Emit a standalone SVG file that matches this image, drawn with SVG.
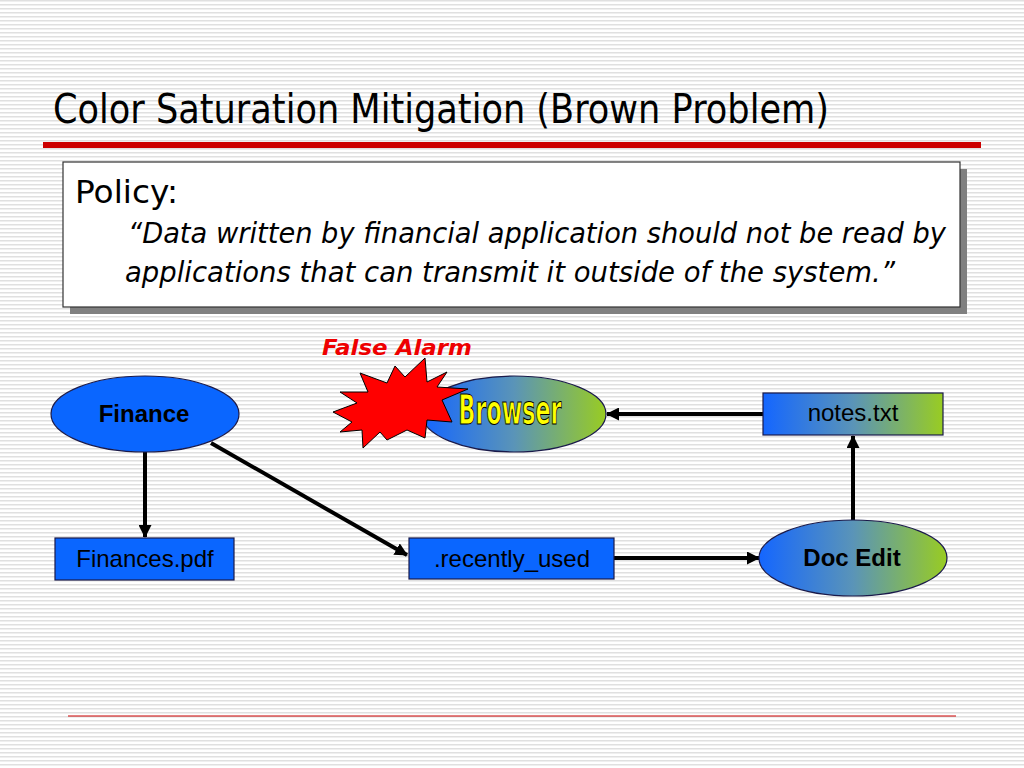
<svg xmlns="http://www.w3.org/2000/svg" width="1024" height="768" viewBox="0 0 1024 768">
<defs>
<pattern id="stripes" width="8" height="4" patternUnits="userSpaceOnUse">
<rect width="8" height="4" fill="#ffffff"/>
<rect y="0" width="8" height="1.5" fill="#e0e0e0"/>
</pattern>
<linearGradient id="bg" x1="0" y1="0" x2="1" y2="0">
<stop offset="0" stop-color="#1466ff"/>
<stop offset="0.5" stop-color="#5a94b8"/>
<stop offset="1" stop-color="#99cc22"/>
</linearGradient>
<marker id="arr" markerWidth="13" markerHeight="13" refX="12" refY="6.5" orient="auto" markerUnits="userSpaceOnUse" viewBox="0 0 13 13">
<path d="M0,0 L13,6.5 L0,13 z" fill="#000"/>
</marker>
<style>
.sans{font-family:"Liberation Sans",Arial,sans-serif;}
.tah{font-family:"DejaVu Sans",Verdana,sans-serif;}
.node{stroke:#1a1a4a;stroke-width:1.2;}
.blue{fill:#0a66ff;}
.grad{fill:url(#bg);}
.conn{stroke:#000;stroke-width:4;fill:none;}
.lbl{font-size:24px;fill:#000;text-anchor:middle;}
.bold{font-weight:bold;}
</style>
</defs>
<rect width="1024" height="768" fill="url(#stripes)"/>
<text class="tah" x="53" y="123" font-size="40" textLength="776" lengthAdjust="spacingAndGlyphs" fill="#000">Color Saturation Mitigation (Brown Problem)</text>
<rect x="43" y="142" width="938" height="6" fill="#cc0000"/>
<g id="policy">
<rect x="70" y="169" width="897" height="145" fill="#808080"/>
<rect x="63" y="162" width="897" height="145" fill="#ffffff" stroke="#333" stroke-width="1.2"/>
<text class="tah" x="75" y="203" font-size="32" textLength="103" lengthAdjust="spacingAndGlyphs" fill="#000">Policy:</text>
<text class="tah" x="128" y="243" font-size="29" font-style="italic" textLength="818" lengthAdjust="spacingAndGlyphs" fill="#000">“Data written by financial application should not be read by</text>
<text class="tah" x="125" y="282" font-size="29" font-style="italic" textLength="770" lengthAdjust="spacingAndGlyphs" fill="#000">applications that can transmit it outside of the system.”</text>
</g>
<g id="connectors">
<line class="conn" x1="145" y1="452" x2="145" y2="537" marker-end="url(#arr)"/>
<line class="conn" x1="211" y1="443" x2="407" y2="555" marker-end="url(#arr)"/>
<line class="conn" x1="614" y1="558" x2="759" y2="558" marker-end="url(#arr)"/>
<line class="conn" x1="853" y1="520" x2="853" y2="436" marker-end="url(#arr)"/>
<line class="conn" x1="763" y1="414" x2="607" y2="414" marker-end="url(#arr)"/>
</g>
<g id="finance">
<ellipse class="node blue" cx="145" cy="414" rx="94" ry="38"/>
<text class="sans lbl bold" x="144" y="422">Finance</text>
</g>
<g id="finances-pdf">
<rect class="node blue" x="55" y="538" width="179" height="42"/>
<text class="sans lbl" x="145" y="567">Finances.pdf</text>
</g>
<g id="recently-used">
<rect class="node blue" x="409" y="538" width="205" height="41"/>
<text class="sans lbl" x="512" y="567">.recently_used</text>
</g>
<g id="doc-edit">
<ellipse class="node grad" cx="853" cy="558" rx="94" ry="38"/>
<text class="sans lbl bold" x="852" y="566">Doc Edit</text>
</g>
<g id="notes-txt">
<rect class="node grad" x="763" y="393" width="180" height="42"/>
<text class="sans lbl" x="853" y="421">notes.txt</text>
</g>
<g id="browser">
<ellipse class="node grad" cx="514" cy="414" rx="92" ry="38"/>
<text x="510" y="424" font-family="'DejaVu Sans Condensed','DejaVu Sans',sans-serif" font-weight="bold" font-size="41" fill="#ffff00" stroke="#000" stroke-width="1" text-anchor="middle" textLength="103" lengthAdjust="spacingAndGlyphs">Browser</text>
</g>
<g id="false-alarm">
<polygon points="360,373 387,383 395,366 405,377 425,358 427,382 447,372 437,387 468,389 442,400 452,422 427,420 425,438 407,430 387,440 380,432 363,448 362,430 340,432 352,422 333,412 357,403 340,392 368,392" fill="#ff0000" stroke="#000" stroke-width="1" stroke-linejoin="miter"/>
<text class="tah" x="322" y="355" font-size="21" font-weight="bold" font-style="italic" fill="#ee0000" textLength="150" lengthAdjust="spacingAndGlyphs">False Alarm</text>
</g>
<line x1="68" y1="716" x2="956" y2="716" stroke="#cc0000" stroke-width="1.2"/>
</svg>
